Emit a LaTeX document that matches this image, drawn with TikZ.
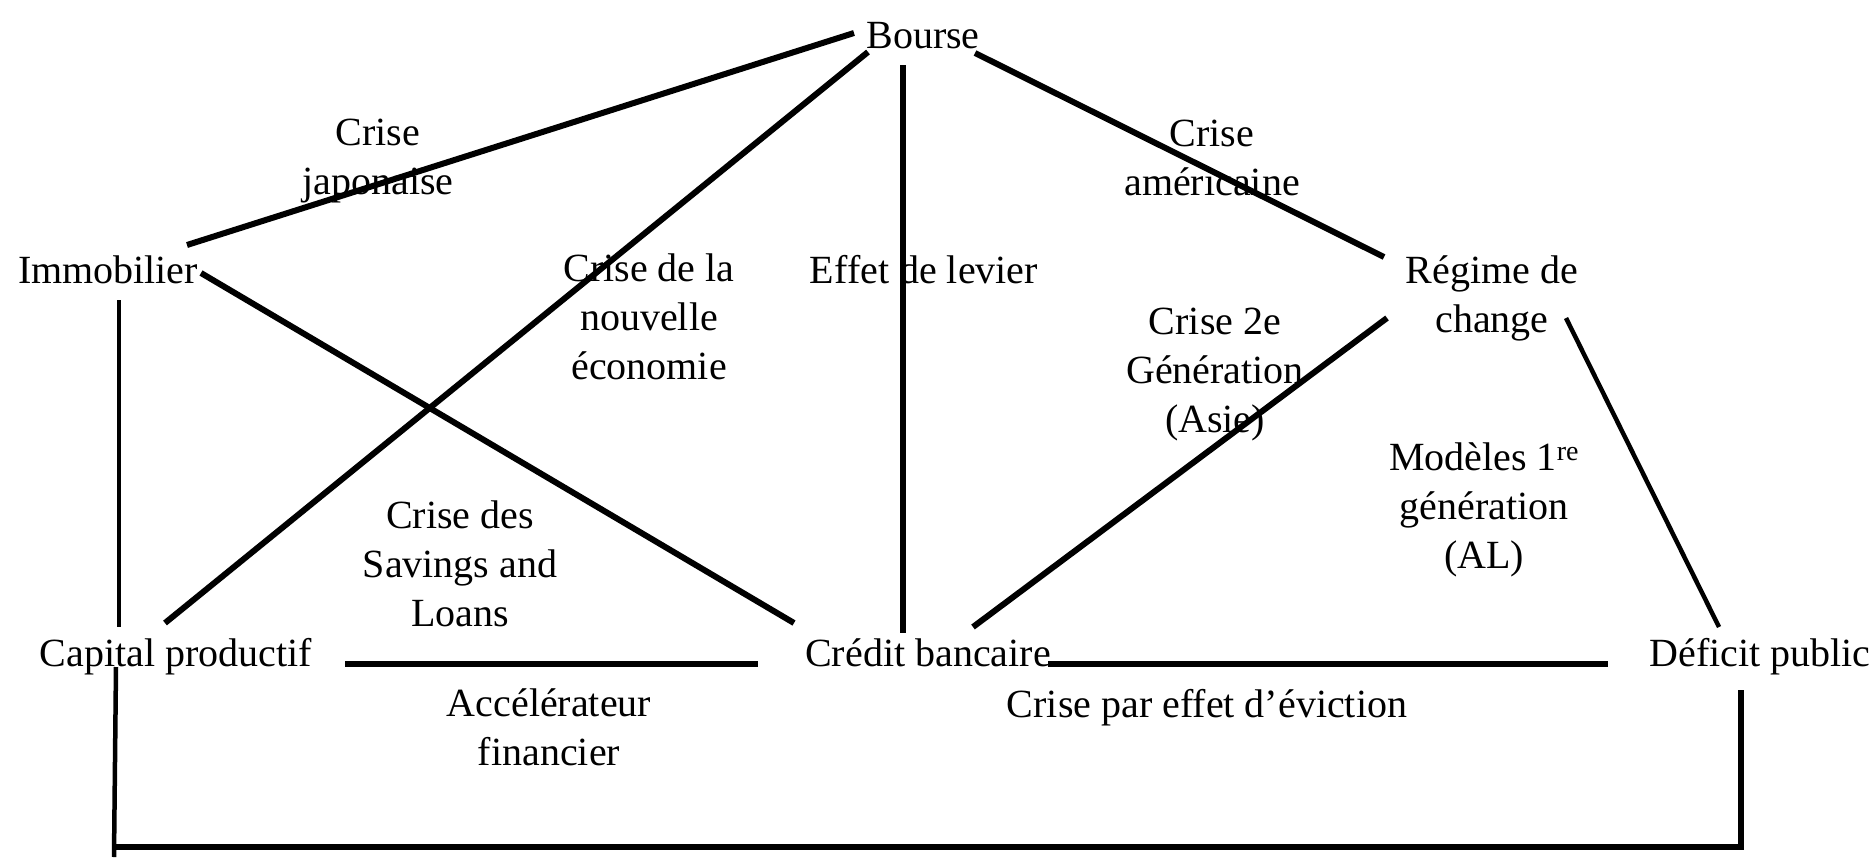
\documentclass[tikz,border=0pt]{standalone}
\usepackage{fontspec}
\setmainfont{Liberation Serif}
% centred stack of lines whose baseline is that of the first line
\newcommand\txtlines[1]{\begin{tabular}[t]{@{}c@{}}#1\end{tabular}}
\tikzset{
  term/.style={font=\fontsize{40}{49}\selectfont, inner sep=0pt, anchor=base},
  note/.style={term},
  link/.style={line width=6pt},
  thinlink/.style={line width=4.5pt},
}
\begin{document}
\begin{tikzpicture}[x=1pt,y=-1pt]
\useasboundingbox (0,0) rectangle (1874,857);

% markets and aggregates
\node[term] (bourse)  at (923,48)  {Bourse};
\node[term] (immo)    at (108,283) {Immobilier};
\node[term] (regime)  at (1492,283) {\txtlines{Régime de\\change}};
\node[term] (capital) at (176,666) {Capital productif};
\node[term] (credit)  at (928,666) {Crédit bancaire};
\node[term] (deficit) at (1760,666) {Déficit public};

% crisis labels
\node[note] (l-jap)   at (378,145)  {\txtlines{Crise\\japonaise}};
\node[note] (l-ame)   at (1212,146) {\txtlines{Crise\\américaine}};
\node[note] (l-levier) at (924,283) {Effet de levier};
\node[note] (l-nouv)  at (649,281)  {\txtlines{Crise de la\\nouvelle\\économie}};
\node[note] (l-asie)  at (1215,334) {\txtlines{Crise 2e\\Génération\\(Asie)}};
\node[note] (l-al)    at (1484,470) {\txtlines{Modèles 1\textsuperscript{re}\\génération\\(AL)}};
\node[note] (l-sl)    at (460,528)  {\txtlines{Crise des\\Savings and\\Loans}};
\node[note] (l-acc)   at (549,716)  {\txtlines{Accélérateur\\financier}};
\node[note] (l-evic)  at (1207,717) {Crise par effet d'éviction};

% connector ends around each term
\coordinate (bourse-w)  at (854,33);
\coordinate (bourse-sw) at (868,52);
\coordinate (bourse-s)  at (903,65);
\coordinate (bourse-e)  at (975,53);
\coordinate (immo-ne)   at (187,245);
\coordinate (immo-e)    at (201,273);
\coordinate (immo-s)    at (119,300);
\coordinate (regime-w)  at (1384,257);
\coordinate (regime-sw) at (1387,318);
\coordinate (regime-se) at (1566,318);
\coordinate (capital-n) at (119,627);
\coordinate (capital-ne) at (165,623);
\coordinate (capital-e) at (345,664);
\coordinate (capital-s) at (116,667);
\coordinate (credit-nw) at (794,623);
\coordinate (credit-n)  at (903,633);
\coordinate (credit-ne) at (973,627);
\coordinate (credit-w)  at (758,664);
\coordinate (credit-e)  at (1048,664);
\coordinate (deficit-n) at (1719,627);
\coordinate (deficit-w) at (1608,664);
\coordinate (deficit-s) at (1741,690);
\coordinate (loop-end)  at (114,857);
\coordinate (loop-sw)   at (114,847);

% links
\draw[link] (bourse-w)  -- (immo-ne);
\draw[link] (bourse-sw) -- (capital-ne);
\draw[link] (bourse-s)  -- (credit-n);
\draw[link] (bourse-e)  -- (regime-w);
\draw[link] (immo-e)    -- (credit-nw);
\draw[thinlink] (immo-s) -- (capital-n);
\draw[link] (regime-sw) -- (credit-ne);
\draw[thinlink] (regime-se) -- (deficit-n);
\draw[link] (capital-e) -- (credit-w);
\draw[link] (credit-e)  -- (deficit-w);
\draw[thinlink] (capital-s) -- (loop-end);
\draw[link, line join=miter] (loop-sw) -| (deficit-s);
\end{tikzpicture}
\end{document}
